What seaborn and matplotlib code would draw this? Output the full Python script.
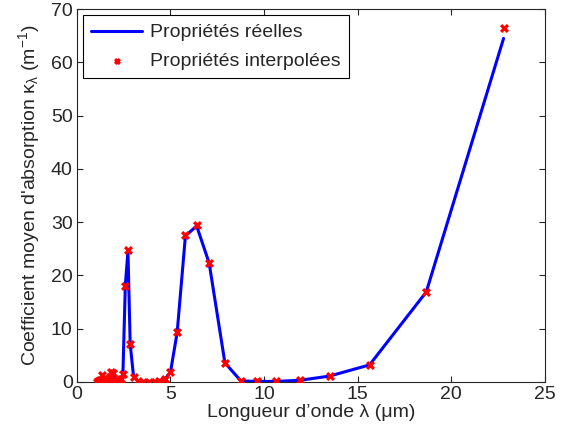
import numpy as np
import pandas as pd
import matplotlib
matplotlib.use("Agg")
import matplotlib.pyplot as plt
import seaborn as sns

# wavelength (um) and mean absorption coefficient (1/m)
wavelength = [1.05, 1.15, 1.25, 1.35, 1.45, 1.55, 1.65, 1.75, 1.85, 1.95,
              2.05, 2.15, 2.25, 2.35, 2.46, 2.59, 2.73, 2.85, 3.03, 3.26,
              3.53, 3.83, 4.15, 4.41, 4.7, 5.0, 5.36, 5.8, 6.4, 7.07,
              7.91, 8.76, 9.61, 10.62, 11.9, 13.5, 15.64, 18.67, 22.8]
kappa_real = [0.0, 0.1, 0.3, 1.3, 0.4, 0.2, 0.5, 1.0, 1.8, 1.7,
              0.3, 0.2, 0.1, 0.6, 1.4, 18.1, 24.6, 7.1, 1.0, 0.2,
              0.05, 0.0, 0.05, 0.1, 0.5, 1.8, 9.3, 27.4, 29.3, 22.3,
              3.6, 0.2, 0.1, 0.1, 0.3, 1.1, 3.2, 16.9, 64.5]
kappa_interp = [0.0, 0.1, 0.3, 1.3, 0.4, 0.2, 0.5, 1.0, 1.8, 1.7,
                0.3, 0.2, 0.1, 0.6, 1.4, 18.1, 24.8, 7.1, 1.0, 0.2,
                0.05, 0.0, 0.05, 0.1, 0.5, 1.8, 9.3, 27.6, 29.4, 22.4,
                3.6, 0.2, 0.1, 0.1, 0.3, 1.1, 3.2, 16.9, 66.5]

df = pd.DataFrame({"lam": wavelength, "real": kappa_real, "interp": kappa_interp})

sns.set_style("ticks")
plt.rcParams["font.family"] = ["Liberation Sans", "DejaVu Sans"]
plt.rcParams["mathtext.fontset"] = "custom"
plt.rcParams["mathtext.rm"] = "Liberation Sans"
plt.rcParams["mathtext.it"] = "Liberation Sans:italic"
plt.rcParams["xtick.direction"] = "in"
plt.rcParams["ytick.direction"] = "in"

fig = plt.figure(figsize=(5.61, 4.37), dpi=100)
ax = fig.add_axes([0.137, 0.126, 0.834, 0.853])

sns.lineplot(data=df, x="lam", y="real", ax=ax, color="#0000ff", lw=2.2,
             label="Propriétés réelles", sort=False)
sns.scatterplot(data=df, x="lam", y="interp", ax=ax, color="red", marker="x",
                s=24, linewidth=2.3, label="Propriétés interpolées", zorder=3)

ax.set_xlim(0, 25)
ax.set_ylim(0, 70)
ax.set_xticks(range(0, 26, 5))
ax.set_yticks(range(0, 71, 10))
ax.tick_params(labelsize=14, length=4, width=0.8, top=True, right=True,
               labeltop=False, labelright=False, pad=3)
for s in ax.spines.values():
    s.set_linewidth(0.8)

ax.set_xlabel("Longueur d’onde λ (μm)", fontsize=14, labelpad=1)
ax.set_ylabel(r"Coefficient moyen d'absorption $\mathregular{κ_λ}$ (m$^{-1}$)",
              fontsize=14, labelpad=6)

leg = ax.legend(loc="upper left", fontsize=14, fancybox=False,
                edgecolor="black", framealpha=1, borderaxespad=0.3,
                handlelength=2.6, handletextpad=0.4, borderpad=0.45,
                labelspacing=0.55, markerscale=0.7)
leg.get_frame().set_linewidth(0.8)

fig.savefig("out.png", dpi=100)
